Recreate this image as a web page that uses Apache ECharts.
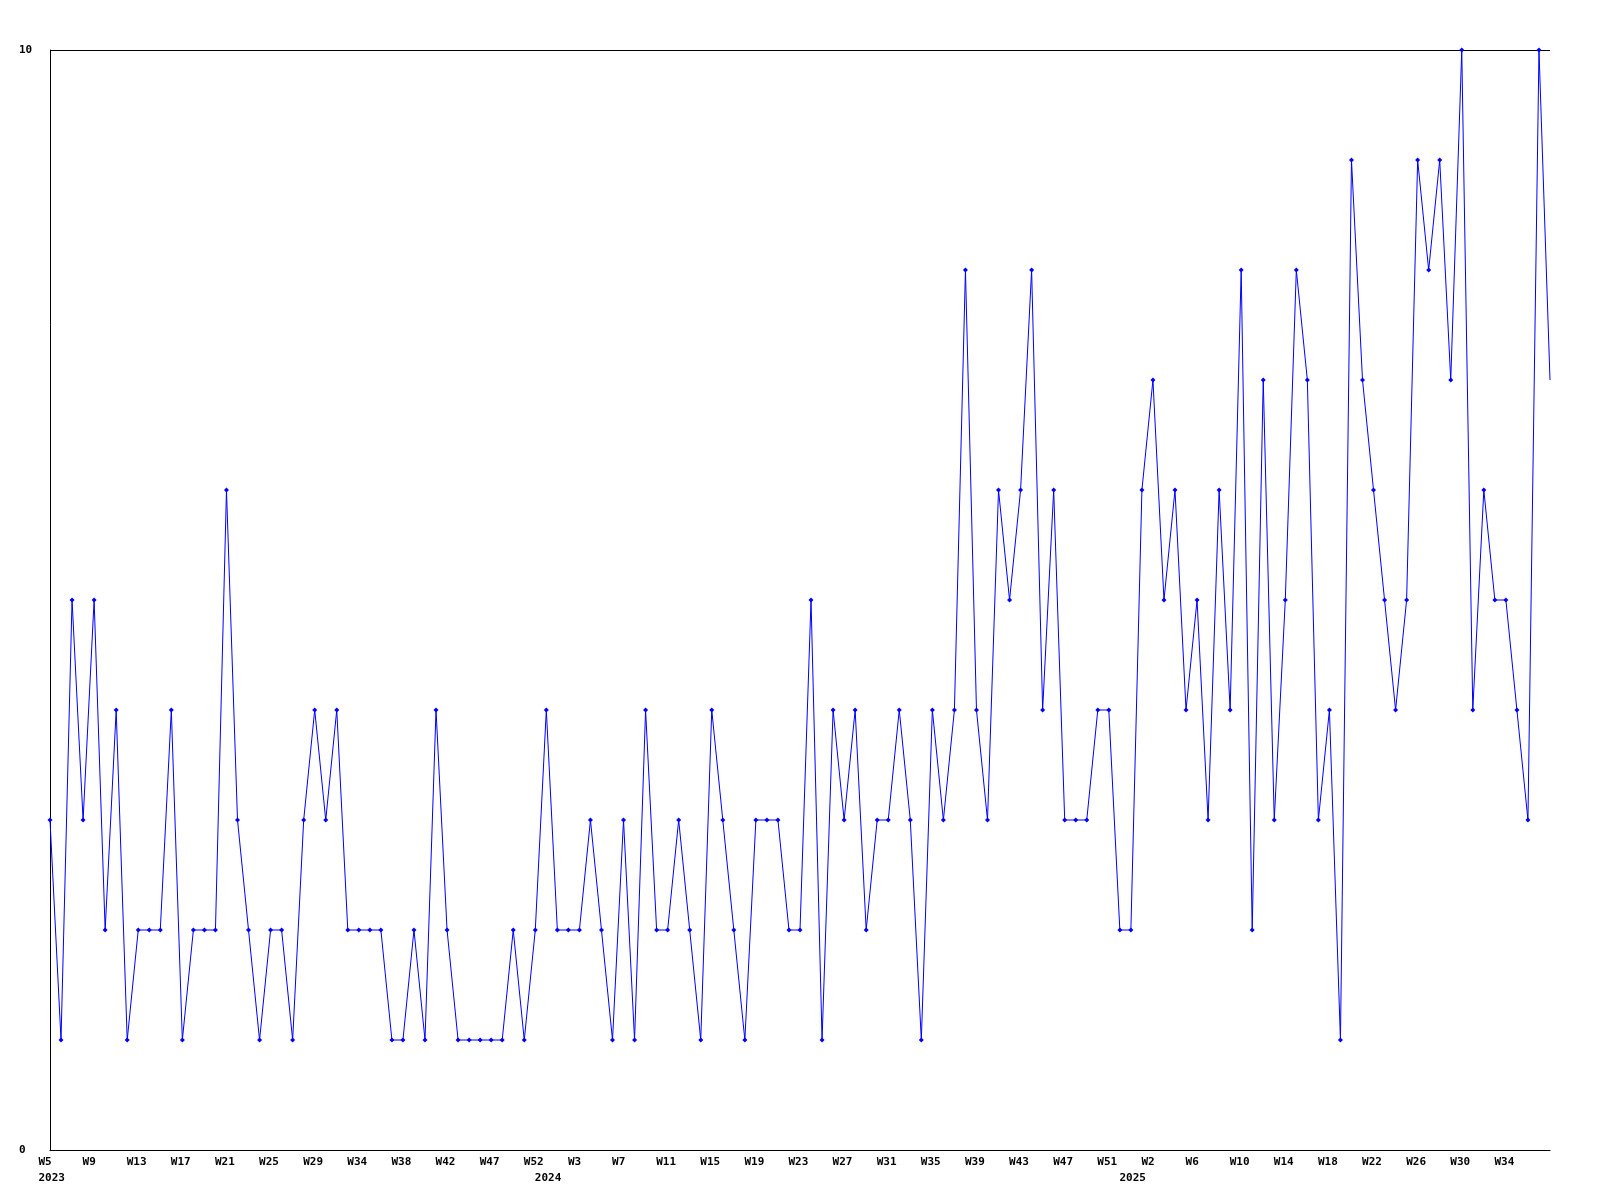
<!DOCTYPE html>
<html>
<head>
<meta charset="utf-8">
<script src="https://cdn.jsdelivr.net/npm/echarts@6/dist/echarts.min.js"></script>
<style>
html,body{margin:0;padding:0;background:#fff;}
#chart{width:1600px;height:1200px;}
</style>
</head>
<body>
<div id="chart"></div>
<script>
// Weekly values, 2023 W5 .. 2025 (one point per week)
const values = [
  3,1,5,3,5,2,4,1,2,2,2,4,1,2,2,2,6,3,2,1,2,2,1,
  3,4,3,4,2,2,2,2,1,1,2,1,4,2,1,1,1,1,1,2,1,2,4,
  2,2,2,3,2,1,3,1,4,2,2,3,2,1,4,3,2,1,3,3,3,2,2,
  5,1,4,3,4,2,3,3,4,3,1,4,3,4,8,4,3,6,5,6,8,4,
  6,3,3,3,4,4,2,2,6,7,5,6,4,5,3,6,4,8,2,7,3,5,8,
  7,3,4,1,9,7,6,5,4,5,9,8,9,7,10,4,6,5,5,4,3,10,7
];
// Week tick labels, one every 4th point
const tickLabels = ['W5','W9','W13','W17','W21','W25','W29','W34','W38','W42','W47','W52',
  'W3','W7','W11','W15','W19','W23','W27','W31','W35','W39','W43','W47',
  'W51','W2','W6','W10','W14','W18','W22','W26','W30','W34'];
const tickStep = 4;
// Year labels and the point index where each year starts
const yearIndex = [0, 45, 98];
const yearText = ['2023', '2024', '2025'];
// y-axis range
const yMin = 0, yMax = 10;

const categories = values.map((v, i) => String(i));
const FONT = '"DejaVu Sans Mono", "Liberation Mono", monospace';

const chart = echarts.init(document.getElementById('chart'), null, {renderer: 'canvas'});
chart.setOption({
  animation: false,
  backgroundColor: '#ffffff',
  grid: {left: 50, right: 50, top: 50, bottom: 50, containLabel: false},
  xAxis: [{
    type: 'category',
    data: categories,
    boundaryGap: false,
    position: 'bottom',
    axisLine: {show: true, lineStyle: {color: '#000', width: 1}},
    axisTick: {show: false},
    splitLine: {show: false},
    axisLabel: {
      interval: tickStep - 1,
      margin: 7,
      formatter: function (v, i) {
        const t = tickLabels[Math.round(i / tickStep)];
        return (i % tickStep === 0 && t) ? '{a|' + t + '}' : '';
      },
      rich: {a: {width: 23, align: 'left', fontFamily: FONT, fontSize: 11, fontWeight: 'bold', color: '#000'}}
    }
  }, {
    type: 'category',
    data: categories,
    boundaryGap: false,
    position: 'bottom',
    axisLine: {show: false},
    axisTick: {show: false},
    splitLine: {show: false},
    axisLabel: {
      interval: function (i) { return yearIndex.indexOf(i) >= 0; },
      margin: 23,
      formatter: function (v, i) {
        const k = yearIndex.indexOf(i);
        return k >= 0 ? '{a|' + yearText[k] + '}' : '';
      },
      rich: {a: {width: 23, align: 'left', fontFamily: FONT, fontSize: 11, fontWeight: 'bold', color: '#000'}}
    }
  }],
  yAxis: {
    type: 'value',
    min: yMin,
    max: yMax,
    interval: 10,
    axisLine: {show: true, lineStyle: {color: '#000', width: 1}},
    axisTick: {show: false},
    splitLine: {show: true, lineStyle: {color: '#000', width: 1}},
    axisLabel: {
      align: 'left',
      margin: 31,
      fontFamily: FONT,
      fontSize: 11,
      fontWeight: 'bold',
      color: '#000'
    }
  },
  series: [{
    type: 'line',
    data: values,
    xAxisIndex: 0,
    color: '#0000ff',
    lineStyle: {color: '#0000ff', width: 1},
    itemStyle: {color: '#0000ff'},
    symbol: function (v, p) { return p.dataIndex === values.length - 1 ? 'none' : 'diamond'; },
    symbolSize: 5,
    showAllSymbol: true,
    clip: false
  }]
});
</script>
</body>
</html>
